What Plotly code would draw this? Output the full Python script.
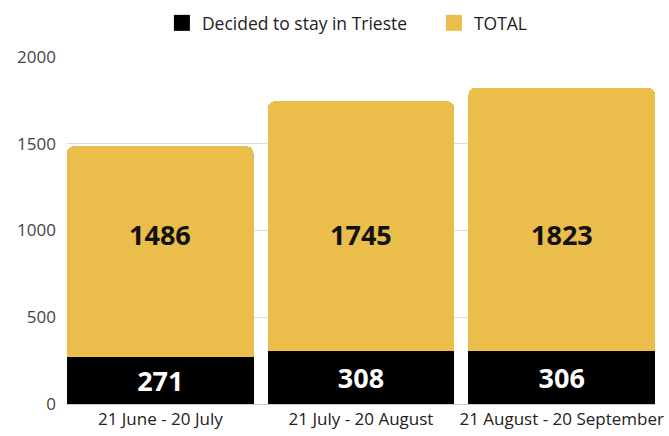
import plotly.graph_objects as go

categories = ["21 June - 20 July", "21 July - 20 August", "21 August - 20 September"]
stayed = [271, 308, 306]
totals = [1486, 1745, 1823]
y_ticks = [0, 500, 1000, 1500, 2000]
label_level = 975

remainder = [t - s for t, s in zip(totals, stayed)]
BLACK = "#000000"
GOLD = "#EBBD4B"
FONT = "Open Sans"

fig = go.Figure()
fig.add_trace(go.Bar(
    x=categories, y=stayed, name="Decided to stay in Trieste", showlegend=False,
    marker=dict(color=BLACK, line=dict(width=0)),
    text=[str(v) for v in stayed], textposition="inside", insidetextanchor="middle",
    textfont=dict(color="white", size=27, family=FONT, weight="bold"),
    hoverinfo="skip",
))
fig.add_trace(go.Bar(
    x=categories, y=remainder, name="TOTAL", showlegend=False,
    marker=dict(color=GOLD, line=dict(width=0)),
    hoverinfo="skip",
))
# legend entries with larger square swatches
for name, col in [("Decided to stay in Trieste", BLACK), ("TOTAL", GOLD)]:
    fig.add_trace(go.Scatter(x=[None], y=[None], mode="markers", name=name,
                             marker=dict(symbol="square", size=20, color=col)))

for c, t in zip(categories, totals):
    fig.add_annotation(x=c, y=label_level, text=f"<b>{t}</b>", showarrow=False,
                       font=dict(size=27, color="#111111", family=FONT))

fig.update_layout(
    width=669, height=436,
    barmode="stack", bargap=0.07, barcornerradius=7,
    margin=dict(l=67, r=14, t=57, b=32, autoexpand=False),
    paper_bgcolor="white", plot_bgcolor="white",
    font=dict(family=FONT, size=17, color="#333333"),
    legend=dict(orientation="h", x=0.624, xanchor="center", xref="paper",
                y=1 - 23 / 436, yref="container", yanchor="middle",
                font=dict(size=17.5, color="#222222"), traceorder="normal",
                itemsizing="trace", itemwidth=30, entrywidth=227),
    xaxis=dict(range=[-0.465, 2.465], showgrid=False, showline=True, linecolor="#cccccc",
               ticks="", tickfont=dict(size=17, color="#222222"), automargin=False),
    yaxis=dict(range=[0, 2000], tickvals=y_ticks, showgrid=True, gridcolor="#dddddd",
               zeroline=False, ticks="", ticklabelstandoff=10, automargin=False,
               tickfont=dict(size=17, color="#444444")),
)
fig.write_html("out.html", config={"displayModeBar": False},
               post_script="document.body.style.margin='0';")
